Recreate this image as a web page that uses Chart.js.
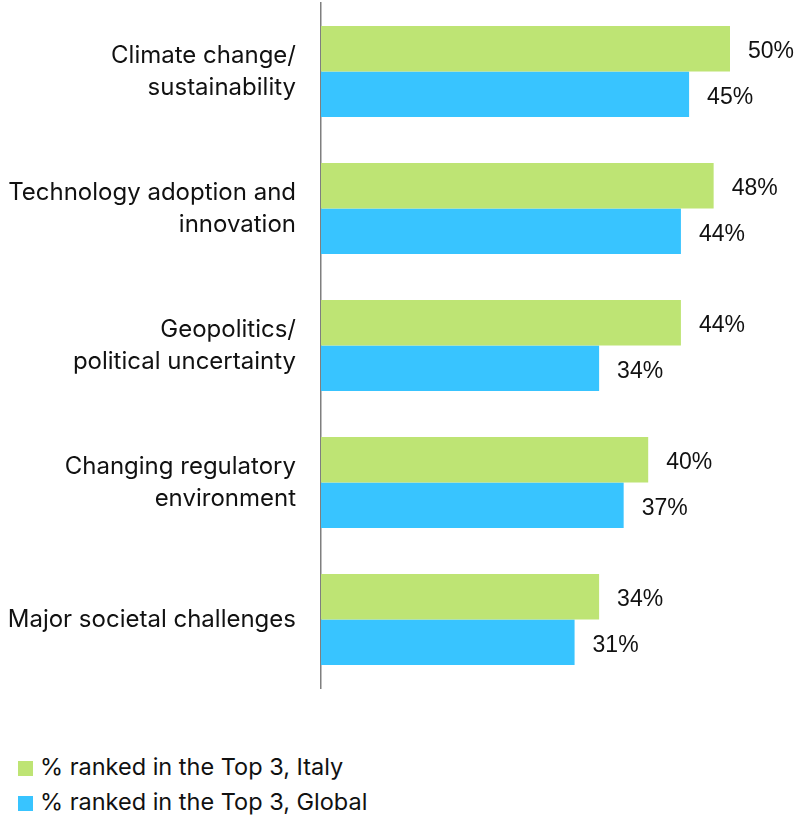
<!DOCTYPE html>
<html>
<head>
<meta charset="utf-8">
<script src="https://cdn.jsdelivr.net/npm/chart.js@4/dist/chart.umd.min.js"></script>
<style>
  body { margin: 0; background: #fff; }
  #wrap { position: relative; width: 797px; height: 700px; }
  #legend { position: absolute; left: 18px; top: 752px; font-family: Inter, "Open Sans", sans-serif; font-size: 23.5px; color: #111; }
  #legend div { height: 35px; line-height: 30px; white-space: nowrap; }
  #legend span.box { display: inline-block; width: 15px; height: 15px; margin-right: 7px; vertical-align: -1px; }
</style>
</head>
<body>
<div id="wrap"><canvas id="chart"></canvas></div>
<div id="legend"></div>
<script>
var categories = [
  ["Climate change/", "sustainability"],
  ["Technology adoption and", "innovation"],
  ["Geopolitics/", "political uncertainty"],
  ["Changing regulatory", "environment"],
  ["Major societal challenges"]
];
var seriesNames = ["% ranked in the Top 3, Italy", "% ranked in the Top 3, Global"];
var italy = [50, 48, 44, 40, 34];
var global = [45, 44, 34, 37, 31];
var colors = ["#bee474", "#38c4ff"];

// value labels to the right of each bar
var valueLabels = {
  id: 'valueLabels',
  afterDatasetsDraw: function(chart) {
    var ctx = chart.ctx;
    ctx.save();
    ctx.font = '23px "Liberation Sans", Arial, sans-serif';
    ctx.fillStyle = '#111';
    ctx.textBaseline = 'middle';
    chart.data.datasets.forEach(function(ds, i) {
      chart.getDatasetMeta(i).data.forEach(function(bar, j) {
        ctx.fillText(ds.data[j] + '%', bar.x + 18, bar.y + 3);
      });
    });
    ctx.restore();
  }
};

var chart = new Chart(document.getElementById("chart"), {
  type: 'bar',
  data: {
    labels: categories,
    datasets: [
      { label: seriesNames[0], data: italy, backgroundColor: colors[0] },
      { label: seriesNames[1], data: global, backgroundColor: colors[1] }
    ]
  },
  options: {
    indexAxis: 'y',
    responsive: true,
    maintainAspectRatio: false,
    animation: false,
    layout: { padding: { top: 3, bottom: 12, right: 67, left: 0 } },
    datasets: { bar: { categoryPercentage: 0.664, barPercentage: 1.0 } },
    plugins: {
      legend: { display: false },
      tooltip: { enabled: false }
    },
    scales: {
      x: { display: false, min: 0, max: 50 },
      y: {
        afterFit: function(s) {
          s.width = 321;
          s.paddingTop = 0;
          s.paddingBottom = 0;
        },
        grid: { drawOnChartArea: false, drawTicks: false },
        border: { color: '#7f7f7f', width: 1.5 },
        ticks: {
          padding: 25,
          color: '#111',
          font: { family: 'Inter, "Open Sans", sans-serif', size: 24, lineHeight: 1.33 }
        }
      }
    }
  },
  plugins: [valueLabels]
});

// legend stacked in two rows below the chart
var legend = document.getElementById("legend");
chart.data.datasets.forEach(function(ds) {
  var row = document.createElement("div");
  row.innerHTML = '<span class="box" style="background:' + ds.backgroundColor + '"></span>' + ds.label;
  legend.appendChild(row);
});
</script>
</body>
</html>
